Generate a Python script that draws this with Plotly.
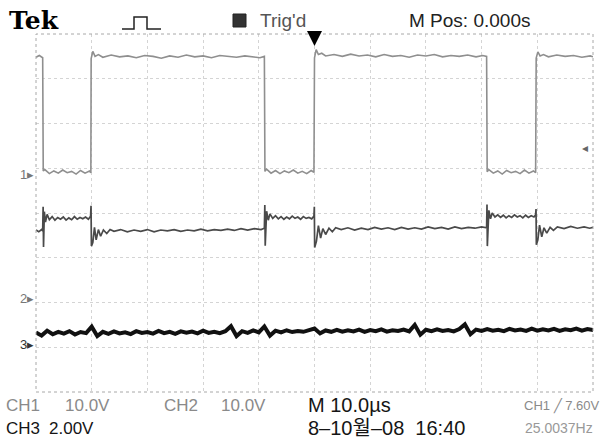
import plotly.graph_objects as go

# ---------------- data (time in microseconds, volts) ----------------
ch1_t = [
    -50.0, -49.4, -48.8, -48.7, -48.4, -47.6, -46.8, -46.0, -45.2, -44.4, -43.6, -42.8, -42.0, -41.2, -40.4, -40.15,
    -40.1, -39.8, -39.4, -38.8, -38.0, -36.5, -35.0, -33.5, -32.0, -30.5, -29.0, -27.5, -26.0, -24.5, -23.0, -21.5,
    -20.0, -18.5, -17.0, -15.5, -14.0, -12.5, -11.0, -9.8, -9.0,
    -8.9, -8.6, -7.8, -7.0, -6.2, -5.4, -4.6, -3.8, -3.0, -2.2, -1.4, -0.6, -0.1,
    0.0, 0.3, 0.7, 1.3, 2.0, 3.5, 5.0, 6.5, 8.0, 9.5, 11.0, 12.5, 14.0, 15.5, 17.0, 18.5, 20.0, 21.5, 23.0, 24.5,
    26.0, 27.5, 29.0, 30.2, 30.9,
    31.0, 31.3, 32.1, 32.9, 33.7, 34.5, 35.3, 36.1, 36.9, 37.7, 38.5, 39.3, 39.7,
    39.8, 40.1, 40.5, 41.1, 42.0, 43.5, 45.0, 46.5, 48.0, 49.5, 50.0,
]
ch1_v = [
    26.3, 26.7, 26.2, 0.9, 1.2, 0.3, 0.9, 0.4, 1.1, 0.5, 0.8, 0.2, 1.0, 0.4, 0.9, 0.5,
    26.0, 27.6, 26.5, 26.9, 26.3, 26.8, 26.4, 26.6, 26.2, 26.7, 26.5, 26.1, 26.6, 26.3, 26.8, 26.4,
    26.6, 26.2, 26.7, 26.5, 26.3, 26.6, 26.4, 26.2, 26.5,
    0.8, 1.3, 0.4, 1.0, 0.3, 0.9, 0.5, 1.1, 0.4, 0.8, 0.3, 1.0, 0.6,
    26.2, 28.0, 26.9, 27.2, 26.6, 26.9, 26.5, 27.0, 26.6, 26.8, 26.4, 26.9, 26.5, 26.7, 26.3, 26.8, 26.6, 26.9, 26.4, 26.7,
    26.5, 26.8, 26.4, 26.7, 26.5,
    0.7, 1.2, 0.4, 0.9, 0.2, 1.0, 0.5, 0.8, 0.3, 1.1, 0.4, 0.9, 0.5,
    26.1, 27.5, 26.6, 26.9, 26.4, 26.8, 26.5, 26.7, 26.3, 26.6, 26.4,
]

ch2_t = [
    -50.0, -49.5, -49.0, -48.8,
    -48.72, -48.65, -48.5, -48.3, -48.0,
    -47.6, -47.1, -46.6, -46.1, -45.6, -45.1, -44.6, -44.1, -43.6, -43.1, -42.6, -42.1, -41.6, -41.1, -40.6, -40.2,
    -40.12, -40.05, -39.8, -39.5, -39.2, -38.8, -38.4, -37.9, -37.3, -36.7,
    -36.0, -34.8, -33.6, -32.4, -31.2, -30.0, -28.8, -27.6, -26.4, -25.2, -24.0, -22.8, -21.6, -20.4, -19.2, -18.0,
    -16.8, -15.6, -14.4, -13.2, -12.0, -10.8, -9.6, -9.0,
    -8.92, -8.85, -8.6, -8.3, -8.0,
    -7.5, -7.0, -6.5, -6.0, -5.5, -5.0, -4.5, -4.0, -3.5, -3.0, -2.5, -2.0, -1.5, -1.0, -0.5, -0.1,
    -0.03, 0.03, 0.35, 0.7, 1.1, 1.5, 2.0, 2.6, 3.2, 3.8,
    4.8, 6.0, 7.2, 8.4, 9.6, 10.8, 12.0, 13.2, 14.4, 15.6, 16.8, 18.0, 19.2, 20.4, 21.6, 22.8, 24.0, 25.2, 26.4,
    27.6, 28.8, 30.0, 30.9,
    30.97, 31.03, 31.3, 31.6, 31.9,
    32.4, 32.9, 33.4, 33.9, 34.4, 34.9, 35.4, 35.9, 36.4, 36.9, 37.4, 37.9, 38.4, 38.9, 39.4, 39.7,
    39.77, 39.83, 40.1, 40.4, 40.8, 41.2, 41.7, 42.3, 42.9,
    43.6, 44.8, 46.0, 47.2, 48.4, 49.4, 50.0,
]
ch2_v = [
    15.2, 14.8, 15.3, 15.0,
    20.4, 11.4, 19.3, 17.0, 18.7,
    17.5, 18.2, 17.4, 18.0, 17.6, 18.1, 17.4, 17.9, 17.5, 18.2, 17.6, 18.0, 17.7, 18.1, 17.6, 18.3,
    20.6, 11.6, 12.4, 15.8, 13.0, 15.3, 13.8, 15.2, 14.4, 15.3,
    14.9, 15.3, 14.8, 15.2, 14.9, 15.3, 14.8, 15.2, 15.0, 15.3, 14.9, 15.2, 15.0, 15.4, 15.0, 15.3,
    15.1, 15.4, 15.1, 15.5, 15.2, 15.5, 15.3, 15.6,
    20.8, 11.7, 19.4, 17.4, 18.8,
    17.8, 18.4, 17.7, 18.2, 17.6, 18.1, 17.7, 18.3, 17.8, 18.1, 17.6, 18.2, 17.8, 18.0, 17.7, 18.3,
    20.4, 11.3, 12.7, 16.2, 13.4, 15.5, 14.2, 15.6, 14.8, 15.7,
    15.3, 15.7, 15.2, 15.6, 15.3, 15.8, 15.4, 15.7, 15.3, 15.8, 15.4, 15.7, 15.4, 15.9, 15.5, 15.8, 15.4, 15.9, 15.5,
    15.8, 15.6, 15.9, 15.7,
    20.9, 11.6, 19.6, 17.7, 19.0,
    18.1, 18.6, 18.0, 18.5, 17.9, 18.4, 18.0, 18.6, 18.1, 18.4, 17.9, 18.5, 18.0, 18.4, 18.1, 18.6,
    19.9, 11.9, 13.0, 16.3, 13.7, 15.7, 14.5, 15.8, 15.1,
    15.9, 15.5, 16.0, 15.6, 15.9, 15.6, 15.8,
]

ch3_t = [
    -50, -49, -48, -47, -46, -45, -44, -43, -42, -41,
    -40, -39,
    -38, -37, -36, -35, -34, -33, -32, -31, -30, -29, -28, -27, -26, -25, -24, -23, -22, -21, -20, -19, -18, -17, -16,
    -15, -14,
    -13, -12, -11, -10,
    -9, -8,
    -7, -6, -5, -4, -3, -2, -1,
    0, 1,
    2, 3, 4, 5, 6, 7, 8, 9, 10, 11, 12, 13, 14, 15, 16, 17,
    18, 19,
    20, 21, 22, 23, 24, 25, 26,
    27, 28,
    29, 30, 31, 32, 33, 34, 35, 36, 37, 38, 39, 40, 41, 42, 43, 44, 45, 46, 47, 48, 49, 50,
]
ch3_v = [
    0.52, 0.38, 0.60, 0.44, 0.55, 0.47, 0.58, 0.43, 0.54, 0.49,
    0.78, 0.36,
    0.55, 0.46, 0.57, 0.48, 0.53, 0.45, 0.58, 0.50, 0.54, 0.47, 0.59, 0.49, 0.55, 0.46, 0.57, 0.51, 0.56, 0.48, 0.60, 0.50, 0.55, 0.49, 0.58,
    0.80, 0.36,
    0.58, 0.50, 0.61, 0.52,
    0.79, 0.38,
    0.60, 0.52, 0.62, 0.54, 0.59, 0.55, 0.63,
    0.70, 0.48,
    0.61, 0.55, 0.64, 0.56, 0.62, 0.57, 0.65, 0.55, 0.63, 0.58, 0.66, 0.56, 0.62, 0.59, 0.65, 0.57,
    0.86, 0.42,
    0.64, 0.58, 0.66, 0.59, 0.63, 0.57, 0.67,
    0.88, 0.44,
    0.65, 0.59, 0.67, 0.60, 0.64, 0.58, 0.68, 0.61, 0.65, 0.59, 0.69, 0.60, 0.66, 0.61, 0.68, 0.59, 0.66, 0.62, 0.69, 0.60, 0.67, 0.63,
]

# scope settings (volts/div, ground marker position in divisions from centre)
ch1_scale, ch1_ground = 10.0, 0.85
ch2_scale, ch2_ground = 10.0, -1.90
ch3_scale, ch3_ground = 2.0, -2.93
time_div = 10.0           # us/div
trig_level_v = 6.0        # CH1 trigger level marker

def vrange(scale, ground):
    return [(-4 - ground) * scale, (4 - ground) * scale]

# ---------------- figure ----------------
W, H = 603, 439
L, R, T, B = 36, 593, 34, 392

def PX(x):
    return (x - L) / (R - L)

def PY(y):
    return (B - y) / (B - T)

fig = go.Figure()
fig.add_trace(go.Scatter(x=ch1_t, y=ch1_v, mode="lines", yaxis="y",
                         line=dict(color="#8f8f8f", width=1.6), hoverinfo="skip"))
fig.add_trace(go.Scatter(x=ch2_t, y=ch2_v, mode="lines", yaxis="y2",
                         line=dict(color="#4a4a4a", width=1.7), hoverinfo="skip"))
fig.add_trace(go.Scatter(x=ch3_t, y=ch3_v, mode="lines", yaxis="y3",
                         line=dict(color="#111111", width=4.0), hoverinfo="skip"))

grid = dict(showgrid=True, gridcolor="#d4d4d4", gridwidth=1, griddash="dot",
            zeroline=False, showticklabels=False, ticks="", showline=False, fixedrange=True)

r1 = vrange(ch1_scale, ch1_ground)
fig.update_layout(
    width=W, height=H,
    margin=dict(l=L, r=W - R, t=T, b=H - B),
    paper_bgcolor="white", plot_bgcolor="white",
    showlegend=False,
    xaxis=dict(range=[-5 * time_div, 5 * time_div], tick0=0, dtick=time_div, **grid),
    yaxis=dict(range=r1, tick0=r1[0], dtick=ch1_scale, **grid),
    yaxis2=dict(range=vrange(ch2_scale, ch2_ground), overlaying="y", visible=False, fixedrange=True),
    yaxis3=dict(range=vrange(ch3_scale, ch3_ground), overlaying="y", visible=False, fixedrange=True),
)

shapes = [
    dict(type="rect", xref="paper", yref="paper", x0=0, x1=1, y0=0, y1=1,
         line=dict(color="#a8a8a8", width=1, dash="dot")),
    # acquisition icon
    dict(type="path", xref="paper", yref="paper",
         path=f"M {PX(122)},{PY(29)} L {PX(134)},{PY(29)} L {PX(134)},{PY(17)} "
              f"L {PX(147)},{PY(17)} L {PX(147)},{PY(29)} L {PX(161)},{PY(29)}",
         line=dict(color="#222", width=1.5)),
    # trigger status box
    dict(type="rect", xref="paper", yref="paper", x0=PX(233), x1=PX(246), y0=PY(27), y1=PY(14),
         line=dict(color="#222", width=1), fillcolor="#333"),
]

sans = "Liberation Sans, Arial, sans-serif"
grey = "#8a8a8a"
black = "#151515"

def txt(s, x, y, size, color, family=sans, anchor="left"):
    return dict(text=s, x=PX(x), y=PY(y), xref="paper", yref="paper",
                xanchor=anchor, yanchor="middle", showarrow=False,
                font=dict(size=size, color=color, family=family))

ann = [
    txt("<b>Tek</b>", 7, 20, 25, "#000", family="DejaVu Serif, serif"),
    txt("Trig'd", 258, 20, 19, "#555"),
    txt("M Pos: 0.000s", 407, 20, 19, "#222"),
    txt("CH1", 4, 405, 17, grey),
    txt("10.0V", 63, 405, 17, grey),
    txt("CH2", 162, 405, 17, grey),
    txt("10.0V", 219, 405, 17, grey),
    txt("M 10.0µs", 306, 405, 20, black),
    txt("CH1 ╱ 7.60V", 522, 405, 13, grey),
    txt("CH3", 4, 428, 17, black),
    txt("2.00V", 47, 428, 17, black),
    txt("8–10월–08  16:40", 306, 428, 20, black,
        family="Liberation Sans, Noto Sans CJK KR, sans-serif"),
    txt("25.0037Hz", 523, 428, 14, "#999"),
    # channel ground markers
    dict(text="1▸", x=0, xref="paper", y=0, yref="y", xanchor="right", yanchor="middle",
         showarrow=False, font=dict(size=13, color="#777", family=sans)),
    dict(text="2▸", x=0, xref="paper", y=0, yref="y2", xanchor="right", yanchor="middle",
         showarrow=False, font=dict(size=13, color="#777", family=sans)),
    dict(text="3▸", x=0, xref="paper", y=0, yref="y3", xanchor="right", yanchor="middle",
         showarrow=False, font=dict(size=13, color="#333", family=sans)),
    # trigger level marker
    dict(text="◂", x=PX(585), xref="paper", y=trig_level_v, yref="y", xanchor="center",
         yanchor="middle", showarrow=False, font=dict(size=12, color="#666", family="DejaVu Sans")),
    # trigger position arrow
    dict(text="", x=0, xref="x", y=PY(46), yref="paper", showarrow=True,
         ax=0, ay=-15, arrowhead=2, arrowsize=1, arrowwidth=3, arrowcolor="#000"),
]

fig.update_layout(shapes=shapes, annotations=ann)
fig.write_html(
    "out.html",
    config={"displayModeBar": False},
    post_script="document.body.style.margin='0';document.body.style.overflow='hidden';",
)
